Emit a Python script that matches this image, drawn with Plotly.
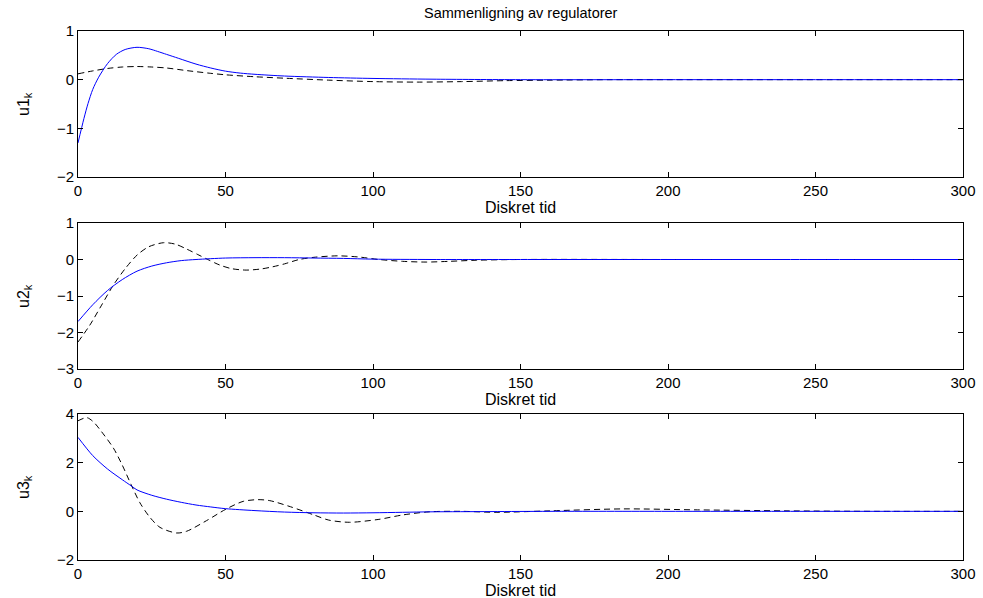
import plotly.graph_objects as go

# ---- data ----
k1_blue = [0, 2, 3.4, 5, 7, 10, 13, 16, 20, 24, 27, 30, 34, 40, 45, 50, 55, 60, 70, 85, 100, 120, 150, 200, 250, 300]
u1_blue = [-1.3, -0.8, -0.49, -0.2, 0.05, 0.33, 0.52, 0.62, 0.665, 0.635, 0.58, 0.52, 0.44, 0.32, 0.24, 0.175, 0.135, 0.11, 0.075, 0.045, 0.025, 0.01, 0.0, 0.0, 0.0, 0.0]
k1_dash = [0, 5, 10, 15, 20, 25, 30, 37, 45, 50, 60, 70, 85, 100, 115, 130, 145, 160, 180, 200, 250, 300]
u1_dash = [0.12, 0.18, 0.23, 0.26, 0.27, 0.26, 0.24, 0.185, 0.13, 0.1, 0.06, 0.03, -0.01, -0.04, -0.05, -0.04, -0.02, -0.01, 0.0, 0.0, 0.0, 0.0]

k2_blue = [0, 5, 10, 15, 20, 25, 30, 35, 40, 50, 60, 70, 80, 90, 100, 120, 150, 200, 250, 300]
u2_blue = [-1.70, -1.24, -0.85, -0.55, -0.32, -0.18, -0.09, -0.03, 0.0, 0.04, 0.05, 0.05, 0.04, 0.03, 0.01, 0.0, 0.0, 0.0, 0.0, 0.0]
k2_dash = [0, 4, 8, 12, 16, 20, 24, 29, 33, 37, 41, 44, 48, 52, 57, 62, 66, 70, 75, 80, 88, 95, 102, 110, 118, 126, 135, 150, 200, 250, 300]
u2_dash = [-2.26, -1.8, -1.25, -0.7, -0.25, 0.12, 0.35, 0.46, 0.42, 0.28, 0.12, 0.0, -0.15, -0.25, -0.29, -0.26, -0.2, -0.12, 0.0, 0.06, 0.1, 0.07, 0.0, -0.05, -0.07, -0.05, -0.02, 0.0, 0.0, 0.0, 0.0]

k3_blue = [0, 5, 10, 15, 18, 20, 25, 30, 35, 40, 45, 50, 60, 70, 80, 90, 100, 110, 120, 140, 160, 200, 250, 300]
u3_blue = [3.04, 2.29, 1.74, 1.3, 1.05, 0.88, 0.66, 0.5, 0.37, 0.26, 0.18, 0.11, 0.03, -0.03, -0.06, -0.07, -0.06, -0.04, -0.02, -0.01, 0.0, 0.0, 0.0, 0.0]
k3_dash = [0, 3, 5.2, 8, 12, 15, 18, 21, 24.4, 27.8, 33.4, 36.8, 43.6, 50.3, 56, 61, 65, 72, 80, 85, 92, 102, 110, 119, 130, 142, 160, 185, 210, 240, 270, 300]
u3_dash = [3.72, 3.85, 3.68, 3.27, 2.6, 1.9, 1.1, 0.35, -0.25, -0.66, -0.89, -0.82, -0.38, 0.1, 0.41, 0.48, 0.44, 0.19, -0.15, -0.36, -0.45, -0.33, -0.15, -0.02, 0.0, -0.04, 0.02, 0.1, 0.06, 0.02, 0.0, 0.0]

xticks = [0, 50, 100, 150, 200, 250, 300]
yticks1 = [-2, -1, 0, 1]
yticks2 = [-3, -2, -1, 0, 1]
yticks3 = [-2, 0, 2, 4]
ylabels = ["u1<sub>k</sub>", "u2<sub>k</sub>", "u3<sub>k</sub>"]
xlabel = "Diskret tid"
title = "Sammenligning av regulatorer"

W, H = 983, 598
FONT = "Liberation Sans, Arial, Helvetica, sans-serif"

# pixel geometry of each axes box
x0, x1 = 78, 963
boxes = [(31, 177), (223, 369), (414, 560)]
yranges = [[-2, 1], [-3, 1], [-2, 4]]
yt = [yticks1, yticks2, yticks3]
series = [
    (k1_blue, u1_blue, k1_dash, u1_dash),
    (k2_blue, u2_blue, k2_dash, u2_dash),
    (k3_blue, u3_blue, k3_dash, u3_dash),
]

fig = go.Figure()
layout = dict(
    width=W, height=H,
    margin=dict(l=0, r=0, t=0, b=0),
    paper_bgcolor="white", plot_bgcolor="white",
    showlegend=False,
    font=dict(family=FONT, size=14, color="black"),
)
annotations = []
for i, ((top, bot), yr, ticks, (kb, ub, kd, ud)) in enumerate(zip(boxes, yranges, yt, series)):
    n = i + 1
    xa = "x" if n == 1 else f"x{n}"
    ya = "y" if n == 1 else f"y{n}"
    fig.add_trace(go.Scatter(x=kd, y=ud, mode="lines", xaxis=xa, yaxis=ya,
                             line=dict(color="black", width=1, dash="6px,4px", shape="spline", smoothing=0.8),
                             hoverinfo="skip"))
    fig.add_trace(go.Scatter(x=kb, y=ub, mode="lines", xaxis=xa, yaxis=ya,
                             line=dict(color="#0000ff", width=1, shape="spline", smoothing=0.8),
                             hoverinfo="skip"))
    axstyle = dict(showline=True, linecolor="black", linewidth=1, mirror="ticks",
                   ticks="inside", ticklen=5, tickcolor="black", tickwidth=1,
                   showgrid=False, zeroline=False, automargin=False,
                   tickfont=dict(family=FONT, size=15, color="black"))
    layout["xaxis" if n == 1 else f"xaxis{n}"] = dict(
        domain=[x0 / W, x1 / W], range=[0, 300], tickvals=xticks,
        anchor=ya, **axstyle)
    layout["yaxis" if n == 1 else f"yaxis{n}"] = dict(
        domain=[1 - bot / H, 1 - top / H], range=yr, tickvals=ticks,
        anchor=xa, **axstyle)
    annotations.append(dict(text=xlabel, x=(x0 + x1) / 2 / W, y=1 - (bot + 30) / H,
                            xref="paper", yref="paper", showarrow=False,
                            xanchor="center", yanchor="middle",
                            font=dict(family=FONT, size=16, color="black")))
    annotations.append(dict(text=ylabels[i], x=24 / W, y=1 - (top + bot) / 2 / H,
                            xref="paper", yref="paper", showarrow=False, textangle=-90,
                            xanchor="center", yanchor="middle",
                            font=dict(family=FONT, size=16, color="black")))

annotations.append(dict(text=title, x=(x0 + x1) / 2 / W, y=1 - 13 / H,
                        xref="paper", yref="paper", showarrow=False,
                        xanchor="center", yanchor="middle",
                        font=dict(family=FONT, size=14.5, color="black")))
layout["annotations"] = annotations
fig.update_layout(**layout)
fig.write_html("out.html")
